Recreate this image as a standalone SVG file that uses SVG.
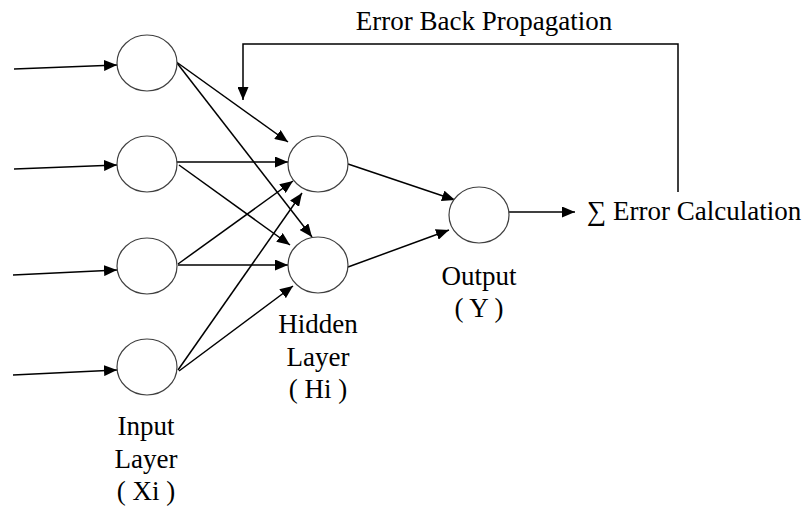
<svg xmlns="http://www.w3.org/2000/svg" width="806" height="511" viewBox="0 0 806 511">
<style>
.n{fill:#fff;stroke:#404040;stroke-width:1.2}
.c{stroke:#000;stroke-width:1.5;fill:none}
.a{marker-end:url(#ah)}
.t{font-family:'Liberation Serif','Times New Roman','DejaVu Serif',serif;font-size:27px;fill:#000;text-anchor:middle}
</style>
<defs>
<marker id="ah" markerUnits="userSpaceOnUse" markerWidth="13" markerHeight="11" viewBox="0 0 13 11" refX="13" refY="5.5" orient="auto">
<path d="M0,0 L13,5.5 L0,11 Z" fill="#000"/>
</marker>
</defs>
<rect width="806" height="511" fill="#fff"/>
<g id="connectors">
<line class="c a" x1="14" y1="69" x2="117" y2="65"/>
<line class="c a" x1="14" y1="169" x2="117" y2="165"/>
<line class="c a" x1="13" y1="275" x2="117" y2="270"/>
<line class="c a" x1="13" y1="375" x2="117" y2="370"/>
<line class="c a" x1="175" y1="61" x2="288" y2="142"/>
<line class="c a" x1="177" y1="63" x2="312" y2="237"/>
<line class="c a" x1="174" y1="162" x2="288" y2="162"/>
<line class="c a" x1="179" y1="165" x2="290" y2="245"/>
<line class="c a" x1="178" y1="264" x2="293" y2="181"/>
<line class="c a" x1="178" y1="265" x2="288" y2="265"/>
<line class="c a" x1="178" y1="370" x2="302" y2="193"/>
<line class="c a" x1="179" y1="371" x2="293" y2="286"/>
<line class="c a" x1="348" y1="164" x2="455" y2="200"/>
<line class="c a" x1="348" y1="267" x2="449" y2="230"/>
<line class="c a" x1="509" y1="212" x2="575" y2="212"/>
<polyline class="c a" points="678,192 678,44 243,44 243,100"/>
</g>
<g id="input1"><ellipse class="n" cx="147" cy="63" rx="30" ry="28"/></g>
<g id="input2"><ellipse class="n" cx="147" cy="164" rx="30" ry="28"/></g>
<g id="input3"><ellipse class="n" cx="147" cy="266" rx="30" ry="28"/></g>
<g id="input4"><ellipse class="n" cx="147" cy="367" rx="30" ry="28"/></g>
<g id="hidden1"><ellipse class="n" cx="318" cy="164" rx="30" ry="28"/></g>
<g id="hidden2"><ellipse class="n" cx="318" cy="265" rx="30" ry="28"/></g>
<g id="output"><ellipse class="n" cx="479" cy="215" rx="30" ry="28"/></g>
<g id="labels">
<text class="t" x="484" y="30">Error Back Propagation</text>
<text class="t" x="587" y="220" style="text-anchor:start">∑ Error Calculation</text>
<text class="t" x="479" y="285">Output</text>
<text class="t" x="479" y="317">( Y )</text>
<text class="t" x="318" y="333">Hidden</text>
<text class="t" x="318" y="366">Layer</text>
<text class="t" x="318" y="398">( Hi )</text>
<text class="t" x="146" y="435">Input</text>
<text class="t" x="146" y="468">Layer</text>
<text class="t" x="146" y="500">( Xi )</text>
</g>
</svg>
